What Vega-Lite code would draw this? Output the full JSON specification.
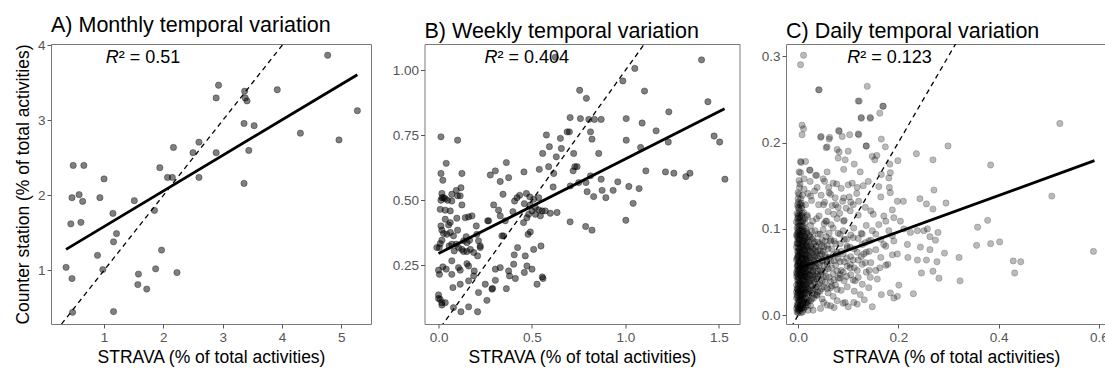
{
"$schema":"https://vega.github.io/schema/vega-lite/v6.json",
"background":"white",
"padding":{"left":13,"top":14,"right":0,"bottom":0},
"spacing":19.5,
"config":{"font":"Liberation Sans","view":{"stroke":"#7a7a7a","strokeWidth":1},
"axis":{"domain":false,"grid":false,"tickColor":"#555","tickSize":4,"labelColor":"#555","labelFontSize":13.5,"labelPadding":2,"titleFontSize":17.5,"titleFontWeight":"normal","titleColor":"#000","titlePadding":5},
"title":{"fontSize":21.5,"fontWeight":"normal","anchor":"start","frame":"group","color":"#000","offset":2}},
"hconcat":[
{"width":320,"height":280,"title":"A) Monthly temporal variation",
"encoding":{"x":{"field":"x","type":"quantitative","scale":{"domain":[0.106,5.5],"nice":false,"zero":false},"axis":{"values":[1,2,3,4,5],"title":"STRAVA (% of total activities)"}},
"y":{"field":"y","type":"quantitative","scale":{"domain":[0.284,4.02],"nice":false,"zero":false},"axis":{"values":[1,2,3,4],"title":"Counter station (% of total activities)","titlePadding":5}}},
"layer":[
{"data":{"values":[{"x":0.36,"y":1.04},{"x":0.46,"y":0.89},{"x":0.47,"y":0.44},{"x":0.48,"y":2.4},{"x":0.46,"y":1.97},{"x":0.44,"y":1.62},{"x":0.58,"y":2.01},{"x":0.64,"y":1.92},{"x":0.61,"y":1.64},{"x":0.66,"y":2.4},{"x":0.89,"y":1.2},{"x":0.93,"y":1.97},{"x":1.0,"y":2.22},{"x":0.98,"y":1.01},{"x":1.15,"y":1.76},{"x":1.16,"y":1.38},{"x":1.21,"y":1.49},{"x":1.16,"y":0.45},{"x":1.51,"y":1.93},{"x":1.57,"y":0.81},{"x":1.58,"y":0.95},{"x":1.72,"y":0.75},{"x":1.85,"y":1.8},{"x":1.87,"y":1.02},{"x":1.94,"y":2.37},{"x":1.97,"y":1.27},{"x":2.07,"y":2.24},{"x":2.15,"y":2.24},{"x":2.17,"y":2.64},{"x":2.23,"y":0.97},{"x":2.5,"y":2.57},{"x":2.6,"y":2.71},{"x":2.6,"y":2.24},{"x":2.89,"y":3.3},{"x":2.93,"y":3.47},{"x":2.89,"y":2.57},{"x":3.37,"y":3.39},{"x":3.38,"y":3.3},{"x":3.41,"y":3.26},{"x":3.36,"y":2.96},{"x":3.53,"y":2.93},{"x":3.44,"y":2.6},{"x":3.36,"y":2.16},{"x":3.92,"y":3.41},{"x":4.31,"y":2.83},{"x":4.77,"y":3.87},{"x":4.96,"y":2.74},{"x":5.27,"y":3.13}]},
"mark":{"type":"point","filled":true,"shape":"circle","size":40,"color":"#000","fillOpacity":0.5,"stroke":"#000","strokeWidth":0.6,"strokeOpacity":0.55}},
{"data":{"values":[{"x":0,"y":0},{"x":6,"y":6}]},"mark":{"type":"line","color":"#000","strokeWidth":1.3,"strokeDash":[5,4],"clip":true}},
{"data":{"values":[{"x":0.36,"y":1.28},{"x":5.27,"y":3.61}]},"mark":{"type":"line","color":"#000","strokeWidth":2.8,"clip":true}},
{"data":{"values":[{"x":1.03,"y":3.76,"r":"R","rest":"² = 0.51"}]},"layer":[
{"mark":{"type":"text","fontSize":18,"fontStyle":"italic","align":"left","baseline":"alphabetic","color":"#000"},"encoding":{"text":{"field":"r"}}},
{"mark":{"type":"text","fontSize":18,"align":"left","baseline":"alphabetic","dx":13,"color":"#000"},"encoding":{"text":{"field":"rest"}}}]}
]},
{"width":315,"height":280,"title":"B) Weekly temporal variation",
"encoding":{"x":{"field":"x","type":"quantitative","scale":{"domain":[-0.075,1.61],"nice":false,"zero":false},"axis":{"values":[0,0.5,1,1.5],"format":".1f","title":"STRAVA (% of total activities)"}},
"y":{"field":"y","type":"quantitative","scale":{"domain":[0.024,1.101],"nice":false,"zero":false},"axis":{"values":[0.25,0.5,0.75,1.0],"format":".2f","title":null}}},
"layer":[
{"data":{"values":[{"x":1.407,"y":1.04},{"x":1.05,"y":1.007},{"x":0.986,"y":0.959},{"x":0.755,"y":0.923},{"x":0.791,"y":0.892},{"x":1.102,"y":0.92},{"x":1.441,"y":0.879},{"x":0.704,"y":0.818},{"x":0.759,"y":0.814},{"x":0.804,"y":0.811},{"x":0.834,"y":0.811},{"x":0.87,"y":0.811},{"x":1.004,"y":0.814},{"x":1.089,"y":0.797},{"x":1.232,"y":0.84},{"x":1.164,"y":0.767},{"x":0.813,"y":0.763},{"x":0.821,"y":0.735},{"x":0.577,"y":0.751},{"x":0.652,"y":0.738},{"x":0.688,"y":0.763},{"x":0.7,"y":0.763},{"x":0.593,"y":0.706},{"x":0.657,"y":0.699},{"x":0.857,"y":0.68},{"x":0.723,"y":0.68},{"x":0.557,"y":0.68},{"x":1.004,"y":0.731},{"x":1.081,"y":0.703},{"x":1.229,"y":0.724},{"x":1.474,"y":0.747},{"x":1.504,"y":0.724},{"x":0.63,"y":0.667},{"x":0.729,"y":0.629},{"x":0.741,"y":0.629},{"x":0.72,"y":0.613},{"x":0.589,"y":0.629},{"x":0.539,"y":0.619},{"x":0.616,"y":0.603},{"x":0.813,"y":0.594},{"x":0.87,"y":0.581},{"x":0.789,"y":0.568},{"x":0.75,"y":0.568},{"x":0.705,"y":0.555},{"x":0.613,"y":0.551},{"x":0.795,"y":0.533},{"x":0.83,"y":0.514},{"x":0.875,"y":0.538},{"x":0.895,"y":0.51},{"x":0.934,"y":0.538},{"x":0.959,"y":0.571},{"x":1.018,"y":0.553},{"x":1.041,"y":0.488},{"x":1.073,"y":0.545},{"x":1.109,"y":0.613},{"x":1.214,"y":0.609},{"x":1.259,"y":0.604},{"x":1.323,"y":0.591},{"x":1.345,"y":0.604},{"x":1.532,"y":0.581},{"x":1.002,"y":0.423},{"x":0.704,"y":0.417},{"x":0.787,"y":0.399},{"x":0.821,"y":0.385},{"x":0.598,"y":0.45},{"x":0.634,"y":0.453},{"x":0.625,"y":1.05},
{"x":0.459,"y":0.487},{"x":0.488,"y":0.513},{"x":0.509,"y":0.504},{"x":0.536,"y":0.51},{"x":0.434,"y":0.519},{"x":0.47,"y":0.526},{"x":0.42,"y":0.51},{"x":0.518,"y":0.472},{"x":0.536,"y":0.463},{"x":0.554,"y":0.459},{"x":0.571,"y":0.459},{"x":0.5,"y":0.459},{"x":0.482,"y":0.446},{"x":0.545,"y":0.44},{"x":0.518,"y":0.446},{"x":0.455,"y":0.414},{"x":0.473,"y":0.433},{"x":0.491,"y":0.482},{"x":0.479,"y":0.369},{"x":0.491,"y":0.378},{"x":0.457,"y":0.609},{"x":0.407,"y":0.497},
{"x":0.363,"y":0.645},{"x":0.375,"y":0.587},{"x":0.345,"y":0.523},{"x":0.304,"y":0.613},{"x":0.277,"y":0.597},{"x":0.33,"y":0.572},{"x":0.295,"y":0.482},{"x":0.321,"y":0.462},{"x":0.33,"y":0.44},{"x":0.268,"y":0.421},{"x":0.398,"y":0.456},{"x":0.357,"y":0.421},{"x":0.348,"y":0.363},{"x":0.339,"y":0.363},{"x":0.423,"y":0.318},{"x":0.405,"y":0.29},{"x":0.402,"y":0.254},{"x":0.464,"y":0.286},{"x":0.473,"y":0.247},{"x":0.5,"y":0.235},{"x":0.509,"y":0.311},{"x":0.548,"y":0.324},{"x":0.555,"y":0.205},{"x":0.527,"y":0.177},{"x":0.559,"y":0.199},{"x":0.459,"y":0.222},{"x":0.411,"y":0.199},{"x":0.38,"y":0.209},{"x":0.375,"y":0.228},{"x":0.33,"y":0.241},{"x":0.304,"y":0.235},{"x":0.304,"y":0.192},{"x":0.363,"y":0.16},{"x":0.289,"y":0.161},{"x":0.286,"y":0.158},{"x":0.259,"y":0.115},{"x":0.25,"y":0.177},{"x":0.223,"y":0.324},{"x":0.263,"y":0.421},{"x":0.205,"y":0.369},{"x":0.202,"y":0.401},{"x":0.214,"y":0.344},{"x":0.223,"y":0.318},{"x":0.209,"y":0.286},{"x":0.214,"y":0.145},{"x":0.209,"y":0.071},{"x":0.161,"y":0.09},{"x":0.12,"y":0.071},{"x":0.08,"y":0.087},{"x":0.116,"y":0.177},{"x":0.161,"y":0.19},{"x":0.188,"y":0.209},{"x":0.191,"y":0.228},{"x":0.152,"y":0.256},{"x":0.161,"y":0.247},{"x":0.116,"y":0.231},{"x":0.107,"y":0.241},{"x":0.071,"y":0.215},{"x":0.077,"y":0.164},{"x":0.152,"y":0.337},{"x":0.166,"y":0.346},{"x":0.148,"y":0.36},{"x":0.17,"y":0.311},{"x":0.125,"y":0.311},{"x":0.134,"y":0.344},{"x":0.188,"y":0.299},{"x":0.143,"y":0.433},{"x":0.161,"y":0.436},{"x":0.179,"y":0.44},{"x":0.125,"y":0.482},{"x":0.116,"y":0.517},{"x":0.125,"y":0.603},{"x":0.102,"y":0.731},{"x":0.071,"y":0.523},{"x":0.095,"y":0.538},{"x":0.102,"y":0.517},{"x":0.071,"y":0.497},{"x":0.063,"y":0.459},{"x":0.098,"y":0.431},{"x":0.063,"y":0.414},{"x":0.054,"y":0.405},{"x":0.08,"y":0.363},{"x":0.063,"y":0.376},{"x":0.102,"y":0.385},{"x":0.045,"y":0.369},{"x":0.071,"y":0.331},{"x":0.057,"y":0.324},{"x":0.095,"y":0.331},{"x":0.107,"y":0.318},{"x":0.018,"y":0.385},{"x":0.018,"y":0.346},{"x":0.027,"y":0.372},{"x":0.013,"y":0.401},{"x":0.004,"y":0.318},{"x":0.009,"y":0.333},{"x":0.036,"y":0.427},{"x":0.009,"y":0.465},{"x":0.036,"y":0.462},{"x":0.013,"y":0.5},{"x":0.018,"y":0.51},{"x":0.027,"y":0.51},{"x":0.018,"y":0.526},{"x":0.036,"y":0.506},{"x":0.023,"y":0.577},{"x":0.013,"y":0.603},{"x":0.041,"y":0.642},{"x":0.013,"y":0.744},{"x":0.0,"y":0.231},{"x":0.005,"y":0.215},{"x":0.023,"y":0.244},{"x":0.041,"y":0.235},{"x":0.0,"y":0.136},{"x":0.0,"y":0.122},{"x":0.009,"y":0.119},{"x":0.018,"y":0.106},{"x":0.036,"y":0.106},{"x":0.018,"y":0.097},{"x":-0.009,"y":0.318},{"x":0.048,"y":0.5},{"x":0.12,"y":0.548},{"x":0.071,"y":0.267},{"x":0.084,"y":0.305},{"x":0.134,"y":0.303},{"x":0.152,"y":0.303}]},
"mark":{"type":"point","filled":true,"shape":"circle","size":40,"color":"#000","fillOpacity":0.5,"stroke":"#000","strokeWidth":0.6,"strokeOpacity":0.55}},
{"data":{"values":[{"x":-1,"y":-1},{"x":2,"y":2}]},"mark":{"type":"line","color":"#000","strokeWidth":1.3,"strokeDash":[5,4],"clip":true}},
{"data":{"values":[{"x":0.0,"y":0.295},{"x":1.53,"y":0.852}]},"mark":{"type":"line","color":"#000","strokeWidth":2.8,"clip":true}},
{"data":{"values":[{"x":0.246,"y":1.027,"r":"R","rest":"² = 0.404"}]},"layer":[
{"mark":{"type":"text","fontSize":18,"fontStyle":"italic","align":"left","baseline":"alphabetic","color":"#000"},"encoding":{"text":{"field":"r"}}},
{"mark":{"type":"text","fontSize":18,"align":"left","baseline":"alphabetic","dx":13,"color":"#000"},"encoding":{"text":{"field":"rest"}}}]}
]},
{"width":320,"height":280,"title":"C) Daily temporal variation",
"encoding":{"x":{"field":"x","type":"quantitative","scale":{"domain":[-0.024,0.614],"nice":false,"zero":false},"axis":{"values":[0,0.2,0.4,0.6],"format":".1f","title":"STRAVA (% of total activities)"}},
"y":{"field":"y","type":"quantitative","scale":{"domain":[-0.01,0.314],"nice":false,"zero":false},"axis":{"values":[0,0.1,0.2,0.3],"format":".1f","title":null}}},
"layer":[
{"data":{"values":[{"x":0.011,"y":0.301},{"x":0.005,"y":0.29},{"x":0.041,"y":0.261},{"x":0.138,"y":0.265},{"x":0.12,"y":0.248},{"x":0.169,"y":0.242},{"x":0.163,"y":0.234},{"x":0.126,"y":0.228},{"x":0.144,"y":0.228},{"x":0.008,"y":0.22},{"x":0.011,"y":0.216},{"x":0.008,"y":0.209},{"x":0.045,"y":0.206},{"x":0.063,"y":0.206},{"x":0.056,"y":0.194},{"x":0.081,"y":0.214},{"x":0.088,"y":0.207},{"x":0.103,"y":0.209},{"x":0.121,"y":0.209},{"x":0.136,"y":0.196},{"x":0.166,"y":0.204},{"x":0.174,"y":0.195},{"x":0.299,"y":0.196},{"x":0.236,"y":0.187},{"x":0.269,"y":0.18},{"x":0.199,"y":0.179},{"x":0.522,"y":0.222},{"x":0.384,"y":0.174},{"x":0.005,"y":0.178},{"x":0.015,"y":0.178},{"x":0.005,"y":0.165},{"x":0.023,"y":0.168},{"x":0.037,"y":0.162},{"x":0.058,"y":0.166},{"x":0.053,"y":0.155},{"x":0.078,"y":0.192},{"x":0.08,"y":0.182},{"x":0.094,"y":0.18},{"x":0.112,"y":0.175},{"x":0.091,"y":0.169},{"x":0.148,"y":0.184},{"x":0.157,"y":0.185},{"x":0.153,"y":0.18},{"x":0.183,"y":0.175},{"x":0.184,"y":0.165},{"x":0.166,"y":0.163},{"x":0.181,"y":0.159},{"x":0.124,"y":0.166},{"x":0.14,"y":0.155},{"x":0.13,"y":0.15},{"x":0.161,"y":0.149},{"x":0.182,"y":0.148},{"x":0.184,"y":0.142},{"x":0.243,"y":0.135},{"x":0.271,"y":0.145},{"x":0.256,"y":0.129},{"x":0.269,"y":0.123},{"x":0.295,"y":0.13},{"x":0.198,"y":0.132},{"x":0.21,"y":0.132},{"x":0.506,"y":0.138},{"x":0.378,"y":0.11},{"x":0.358,"y":0.102},{"x":0.356,"y":0.081},{"x":0.384,"y":0.083},{"x":0.402,"y":0.085},{"x":0.589,"y":0.074},{"x":0.429,"y":0.063},{"x":0.444,"y":0.062},{"x":0.432,"y":0.049},{"x":0.321,"y":0.067},{"x":0.323,"y":0.04},{"x":0.292,"y":0.072},{"x":0.277,"y":0.062},{"x":0.269,"y":0.051},{"x":0.281,"y":0.043},{"x":0.246,"y":0.049},{"x":0.23,"y":0.025},{"x":0.198,"y":0.022},{"x":0.191,"y":0.02},{"x":0.184,"y":0.026},{"x":0.166,"y":0.024},{"x":0.148,"y":0.01},{"x":0.201,"y":0.035},{"x":0.219,"y":0.067},{"x":0.238,"y":0.064},{"x":0.256,"y":0.064},{"x":0.263,"y":0.076},{"x":0.274,"y":0.087},{"x":0.263,"y":0.091},{"x":0.279,"y":0.096},{"x":0.251,"y":0.098},{"x":0.238,"y":0.098},{"x":0.224,"y":0.096},{"x":0.218,"y":0.082},{"x":0.244,"y":0.079},{"x":0.258,"y":0.1},{"x":0.211,"y":0.1},{"x":0.204,"y":0.109},{"x":0.191,"y":0.113},{"x":0.171,"y":0.115},{"x":0.161,"y":0.105},{"x":0.181,"y":0.098},{"x":0.191,"y":0.086},{"x":0.171,"y":0.082},{"x":0.198,"y":0.071},{"x":0.179,"y":0.059},{"x":0.163,"y":0.055},{"x":0.144,"y":0.044},{"x":0.158,"y":0.042},{"x":0.141,"y":0.032},{"x":0.124,"y":0.024},{"x":0.111,"y":0.015},{"x":0.094,"y":0.015},{"x":0.078,"y":0.017},{"x":0.065,"y":0.011},{"x":0.114,"y":0.04},{"x":0.104,"y":0.059},{"x":0.131,"y":0.071},{"x":0.141,"y":0.086},{"x":0.128,"y":0.094},{"x":0.111,"y":0.101},{"x":0.148,"y":0.098},{"x":0.15,"y":0.117},{"x":0.134,"y":0.125},{"x":0.121,"y":0.132},{"x":0.104,"y":0.121},{"x":0.091,"y":0.136},{"x":0.075,"y":0.128},{"x":0.065,"y":0.14},{"x":0.038,"y":0.148},{"x":0.025,"y":0.138},{"x":0.051,"y":0.128},{"x":0.071,"y":0.117},{"x":0.055,"y":0.109},{"x":0.091,"y":0.109},{"x":0.084,"y":0.094},{"x":0.065,"y":0.086},{"x":0.098,"y":0.078},{"x":0.078,"y":0.071},{"x":0.058,"y":0.059},{"x":0.045,"y":0.047},{"x":0.084,"y":0.047},{"x":0.065,"y":0.032},{"x":0.038,"y":0.024},{"x":0.051,"y":0.015},{"x":0.025,"y":0.011},{"x":0.118,"y":0.148},{"x":0.108,"y":0.153},{"x":0.077,"y":0.152},{"x":0.061,"y":0.148},
{"x":0.006,"y":0.177},{"x":0.024,"y":0.168},{"x":0.046,"y":0.207},{"x":0.062,"y":0.204},{"x":0.082,"y":0.213},{"x":0.058,"y":0.195},{"x":0.082,"y":0.189},{"x":0.1,"y":0.19},{"x":0.136,"y":0.196},{"x":0.12,"y":0.21},{"x":0.126,"y":0.229},{"x":0.144,"y":0.229},{"x":0.17,"y":0.242},{"x":0.122,"y":0.248},{"x":0.042,"y":0.261},{"x":0.002,"y":0.166},{"x":0.002,"y":0.156},
{"x":-0.002,"y":0.012},{"x":-0.002,"y":0.031},{"x":-0.002,"y":0.048},{"x":-0.002,"y":0.066},{"x":-0.002,"y":0.083},{"x":-0.002,"y":0.101},{"x":-0.002,"y":0.118},{"x":-0.002,"y":0.024},{"x":-0.002,"y":0.057},{"x":-0.002,"y":0.091},
{"x":0.0,"y":0.006},{"x":0.0,"y":0.019},{"x":0.0,"y":0.037},{"x":0.0,"y":0.052},{"x":0.0,"y":0.071},{"x":0.0,"y":0.088},{"x":0.0,"y":0.107},{"x":0.0,"y":0.125},{"x":0.0,"y":0.142},{"x":0.0,"y":0.015},{"x":0.0,"y":0.044},{"x":0.0,"y":0.078},
{"x":0.001,"y":0.009},{"x":0.001,"y":0.027},{"x":0.001,"y":0.041},{"x":0.001,"y":0.062},{"x":0.001,"y":0.075},{"x":0.001,"y":0.096},{"x":0.001,"y":0.113},{"x":0.001,"y":0.131},{"x":0.001,"y":0.034},{"x":0.001,"y":0.069},
{"x":0.003,"y":0.005},{"x":0.003,"y":0.022},{"x":0.003,"y":0.039},{"x":0.003,"y":0.055},{"x":0.003,"y":0.073},{"x":0.003,"y":0.086},{"x":0.003,"y":0.104},{"x":0.003,"y":0.121},{"x":0.003,"y":0.148},{"x":0.003,"y":0.016},{"x":0.003,"y":0.063},
{"x":0.005,"y":0.011},{"x":0.005,"y":0.028},{"x":0.005,"y":0.046},{"x":0.005,"y":0.059},{"x":0.005,"y":0.081},{"x":0.005,"y":0.094},{"x":0.005,"y":0.116},{"x":0.005,"y":0.135},{"x":0.005,"y":0.035},{"x":0.005,"y":0.072},
{"x":0.007,"y":0.008},{"x":0.007,"y":0.025},{"x":0.007,"y":0.043},{"x":0.007,"y":0.067},{"x":0.007,"y":0.085},{"x":0.007,"y":0.099},{"x":0.007,"y":0.124},{"x":0.007,"y":0.018},{"x":0.007,"y":0.052},
{"x":0.009,"y":0.013},{"x":0.009,"y":0.033},{"x":0.009,"y":0.049},{"x":0.009,"y":0.064},{"x":0.009,"y":0.079},{"x":0.009,"y":0.109},{"x":0.009,"y":0.139},{"x":0.009,"y":0.021},{"x":0.009,"y":0.058},
{"x":0.011,"y":0.007},{"x":0.011,"y":0.026},{"x":0.011,"y":0.045},{"x":0.011,"y":0.061},{"x":0.011,"y":0.077},{"x":0.011,"y":0.092},{"x":0.011,"y":0.119},{"x":0.011,"y":0.038},
{"x":0.013,"y":0.014},{"x":0.013,"y":0.032},{"x":0.013,"y":0.054},{"x":0.013,"y":0.071},{"x":0.013,"y":0.089},{"x":0.013,"y":0.112},{"x":0.013,"y":0.047},
{"x":0.015,"y":0.01},{"x":0.015,"y":0.029},{"x":0.015,"y":0.05},{"x":0.015,"y":0.068},{"x":0.015,"y":0.084},{"x":0.015,"y":0.128},{"x":0.015,"y":0.04},
{"x":0.017,"y":0.019},{"x":0.017,"y":0.036},{"x":0.017,"y":0.057},{"x":0.017,"y":0.074},{"x":0.017,"y":0.097},{"x":0.017,"y":0.062},
{"x":0.019,"y":0.012},{"x":0.019,"y":0.044},{"x":0.019,"y":0.066},{"x":0.019,"y":0.087},{"x":0.019,"y":0.053},{"x":0.019,"y":0.031},
{"x":0.022,"y":0.024},{"x":0.022,"y":0.047},{"x":0.022,"y":0.07},{"x":0.022,"y":0.093},{"x":0.022,"y":0.038},{"x":0.022,"y":0.058},
{"x":0.025,"y":0.017},{"x":0.025,"y":0.035},{"x":0.025,"y":0.061},{"x":0.025,"y":0.08},{"x":0.025,"y":0.104},{"x":0.025,"y":0.052},
{"x":0.028,"y":0.026},{"x":0.028,"y":0.049},{"x":0.028,"y":0.072},{"x":0.028,"y":0.042},{"x":0.028,"y":0.088},
{"x":0.031,"y":0.02},{"x":0.031,"y":0.041},{"x":0.031,"y":0.064},{"x":0.031,"y":0.083},{"x":0.031,"y":0.056},
{"x":0.034,"y":0.031},{"x":0.034,"y":0.055},{"x":0.034,"y":0.076},{"x":0.034,"y":0.098},{"x":0.034,"y":0.045},
{"x":0.037,"y":0.023},{"x":0.037,"y":0.048},{"x":0.037,"y":0.069},{"x":0.037,"y":0.112},
{"x":0.04,"y":0.036},{"x":0.04,"y":0.06},{"x":0.04,"y":0.085},{"x":0.04,"y":0.051},
{"x":0.044,"y":0.028},{"x":0.044,"y":0.052},{"x":0.044,"y":0.075},{"x":0.044,"y":0.094},
{"x":0.048,"y":0.04},{"x":0.048,"y":0.063},{"x":0.048,"y":0.087},{"x":0.048,"y":0.019},
{"x":0.052,"y":0.033},{"x":0.052,"y":0.058},{"x":0.052,"y":0.079},{"x":0.052,"y":0.106},
{"x":0.056,"y":0.045},{"x":0.056,"y":0.067},{"x":0.056,"y":0.091},
{"x":0.06,"y":0.026},{"x":0.06,"y":0.054},{"x":0.06,"y":0.077},{"x":0.06,"y":0.12},
{"x":0.065,"y":0.039},{"x":0.065,"y":0.063},{"x":0.065,"y":0.088},
{"x":0.07,"y":0.048},{"x":0.07,"y":0.07},{"x":0.07,"y":0.101},{"x":0.07,"y":0.022},
{"x":0.075,"y":0.035},{"x":0.075,"y":0.058},{"x":0.075,"y":0.083},
{"x":0.08,"y":0.043},{"x":0.08,"y":0.066},{"x":0.08,"y":0.095},{"x":0.08,"y":0.125},
{"x":0.086,"y":0.029},{"x":0.086,"y":0.052},{"x":0.086,"y":0.074},
{"x":0.092,"y":0.04},{"x":0.092,"y":0.062},{"x":0.092,"y":0.088},{"x":0.092,"y":0.11},
{"x":0.098,"y":0.033},{"x":0.098,"y":0.057},{"x":0.098,"y":0.08},
{"x":0.105,"y":0.047},{"x":0.105,"y":0.068},{"x":0.105,"y":0.093},{"x":0.105,"y":0.131},
{"x":0.112,"y":0.028},{"x":0.112,"y":0.055},{"x":0.112,"y":0.077},
{"x":0.12,"y":0.044},{"x":0.12,"y":0.064},{"x":0.12,"y":0.089},{"x":0.12,"y":0.116},
{"x":0.128,"y":0.036},{"x":0.128,"y":0.059},{"x":0.128,"y":0.082},
{"x":0.136,"y":0.05},{"x":0.136,"y":0.073},{"x":0.136,"y":0.104},
{"x":0.145,"y":0.061},{"x":0.145,"y":0.087},{"x":0.145,"y":0.121},
{"x":0.155,"y":0.052},{"x":0.155,"y":0.076},{"x":0.155,"y":0.094},
{"x":0.165,"y":0.067},{"x":0.165,"y":0.088},{"x":0.165,"y":0.137},
{"x":0.175,"y":0.058},{"x":0.175,"y":0.08},{"x":0.175,"y":0.109},
{"x":0.188,"y":0.07},{"x":0.188,"y":0.092},{"x":0.188,"y":0.122},
{"x":0.004,"y":0.152},{"x":0.012,"y":0.146},{"x":0.02,"y":0.141},{"x":0.027,"y":0.133},{"x":0.033,"y":0.144},{"x":0.041,"y":0.128},{"x":0.046,"y":0.139},{"x":0.053,"y":0.131},{"x":0.062,"y":0.142},{"x":0.068,"y":0.127},{"x":0.074,"y":0.136},{"x":0.083,"y":0.118},{"x":0.089,"y":0.132},{"x":0.096,"y":0.124},{"x":0.102,"y":0.137},{"x":0.11,"y":0.128},{"x":0.117,"y":0.141},{"x":0.012,"y":0.158},{"x":0.024,"y":0.155},{"x":0.035,"y":0.162},{"x":0.05,"y":0.158},{"x":0.07,"y":0.153},{"x":0.086,"y":0.147},{"x":0.1,"y":0.151},{"x":0.008,"y":0.127},{"x":0.018,"y":0.116},{"x":0.029,"y":0.109},{"x":0.042,"y":0.115},{"x":0.057,"y":0.109},{"x":0.066,"y":0.105},{"x":0.078,"y":0.112},
{"x":0.045,"y":0.008},{"x":0.058,"y":0.012},{"x":0.072,"y":0.009},{"x":0.09,"y":0.014},{"x":0.1,"y":0.01},{"x":0.118,"y":0.013},{"x":0.132,"y":0.018},{"x":0.03,"y":0.006},
{"x":-0.001,"y":0.022},{"x":0.001,"y":0.05},{"x":0.002,"y":0.083},{"x":0.004,"y":0.031},{"x":0.006,"y":0.066},{"x":0.008,"y":0.04},{"x":0.01,"y":0.086},{"x":0.012,"y":0.019},{"x":-0.001,"y":0.074},{"x":0.002,"y":0.061},{"x":0.004,"y":0.047},{"x":0.006,"y":0.02},{"x":0.008,"y":0.073},{"x":0.01,"y":0.053},{"x":0.012,"y":0.065},{"x":0.003,"y":0.093},{"x":0.005,"y":0.104},{"x":0.007,"y":0.115},{"x":0.009,"y":0.097},{"x":0.0,"y":0.098},{"x":0.001,"y":0.117},{"x":0.011,"y":0.103},{"x":0.013,"y":0.081},{"x":0.014,"y":0.06},{"x":0.016,"y":0.045},{"x":0.018,"y":0.027},{"x":0.02,"y":0.078},{"x":0.02,"y":0.006},{"x":0.016,"y":0.015},{"x":0.006,"y":0.003},{"x":0.0,"y":0.003},{"x":-0.002,"y":0.004},{"x":0.009,"y":0.004},{"x":0.004,"y":0.012},{"x":0.002,"y":0.036},{"x":0.007,"y":0.031},{"x":0.013,"y":0.025},{"x":0.015,"y":0.1},{"x":0.017,"y":0.085},{"x":0.019,"y":0.114},
{"x":-0.003,"y":0.008},{"x":-0.003,"y":0.02},{"x":-0.003,"y":0.035},{"x":-0.003,"y":0.05},{"x":-0.003,"y":0.064},{"x":-0.003,"y":0.079},{"x":-0.003,"y":0.093},{"x":-0.003,"y":0.108},{"x":-0.003,"y":0.045},{"x":-0.003,"y":0.027},
{"x":-0.001,"y":0.01},{"x":-0.001,"y":0.03},{"x":-0.001,"y":0.041},{"x":-0.001,"y":0.058},{"x":-0.001,"y":0.068},{"x":-0.001,"y":0.085},{"x":-0.001,"y":0.095},{"x":-0.001,"y":0.112},{"x":-0.001,"y":0.128},{"x":-0.001,"y":0.053},
{"x":0.0,"y":0.012},{"x":0.0,"y":0.026},{"x":0.0,"y":0.03},{"x":0.0,"y":0.047},{"x":0.0,"y":0.06},{"x":0.0,"y":0.066},{"x":0.0,"y":0.083},{"x":0.0,"y":0.092},{"x":0.0,"y":0.103},{"x":0.0,"y":0.115},{"x":0.0,"y":0.135},{"x":0.0,"y":0.057},
{"x":0.002,"y":0.007},{"x":0.002,"y":0.018},{"x":0.002,"y":0.028},{"x":0.002,"y":0.044},{"x":0.002,"y":0.054},{"x":0.002,"y":0.069},{"x":0.002,"y":0.078},{"x":0.002,"y":0.089},{"x":0.002,"y":0.1},{"x":0.002,"y":0.109},{"x":0.002,"y":0.124},{"x":0.002,"y":0.14},
{"x":0.004,"y":0.008},{"x":0.004,"y":0.019},{"x":0.004,"y":0.025},{"x":0.004,"y":0.038},{"x":0.004,"y":0.052},{"x":0.004,"y":0.06},{"x":0.004,"y":0.076},{"x":0.004,"y":0.088},{"x":0.004,"y":0.097},{"x":0.004,"y":0.113},{"x":0.004,"y":0.128},
{"x":0.006,"y":0.012},{"x":0.006,"y":0.023},{"x":0.006,"y":0.036},{"x":0.006,"y":0.049},{"x":0.006,"y":0.057},{"x":0.006,"y":0.071},{"x":0.006,"y":0.079},{"x":0.006,"y":0.092},{"x":0.006,"y":0.108},{"x":0.006,"y":0.13},
{"x":0.008,"y":0.009},{"x":0.008,"y":0.017},{"x":0.008,"y":0.028},{"x":0.008,"y":0.046},{"x":0.008,"y":0.055},{"x":0.008,"y":0.066},{"x":0.008,"y":0.083},{"x":0.008,"y":0.09},{"x":0.008,"y":0.103},{"x":0.008,"y":0.118},
{"x":0.01,"y":0.012},{"x":0.01,"y":0.024},{"x":0.01,"y":0.035},{"x":0.01,"y":0.042},{"x":0.01,"y":0.059},{"x":0.01,"y":0.07},{"x":0.01,"y":0.081},{"x":0.01,"y":0.096},{"x":0.01,"y":0.11},
{"x":0.012,"y":0.009},{"x":0.012,"y":0.03},{"x":0.012,"y":0.041},{"x":0.012,"y":0.05},{"x":0.012,"y":0.057},{"x":0.012,"y":0.075},{"x":0.012,"y":0.087},{"x":0.012,"y":0.098},
{"x":0.014,"y":0.02},{"x":0.014,"y":0.035},{"x":0.014,"y":0.045},{"x":0.014,"y":0.055},{"x":0.014,"y":0.066},{"x":0.014,"y":0.076},{"x":0.014,"y":0.092},{"x":0.014,"y":0.107},
{"x":0.016,"y":0.026},{"x":0.016,"y":0.033},{"x":0.016,"y":0.051},{"x":0.016,"y":0.064},{"x":0.016,"y":0.071},{"x":0.016,"y":0.079},{"x":0.016,"y":0.09},
{"x":0.018,"y":0.015},{"x":0.018,"y":0.038},{"x":0.018,"y":0.048},{"x":0.018,"y":0.059},{"x":0.018,"y":0.069},{"x":0.018,"y":0.081},{"x":0.018,"y":0.095},
{"x":0.021,"y":0.017},{"x":0.021,"y":0.03},{"x":0.021,"y":0.042},{"x":0.021,"y":0.052},{"x":0.021,"y":0.063},{"x":0.021,"y":0.076},{"x":0.021,"y":0.085},
{"x":0.024,"y":0.028},{"x":0.024,"y":0.04},{"x":0.024,"y":0.046},{"x":0.024,"y":0.056},{"x":0.024,"y":0.067},{"x":0.024,"y":0.074},{"x":0.024,"y":0.091},
{"x":0.027,"y":0.019},{"x":0.027,"y":0.034},{"x":0.027,"y":0.058},{"x":0.027,"y":0.064},{"x":0.027,"y":0.079},{"x":0.027,"y":0.097},
{"x":0.03,"y":0.03},{"x":0.03,"y":0.047},{"x":0.03,"y":0.051},{"x":0.03,"y":0.07},{"x":0.03,"y":0.077},{"x":0.03,"y":0.09},
{"x":0.033,"y":0.024},{"x":0.033,"y":0.038},{"x":0.033,"y":0.062},{"x":0.033,"y":0.068},{"x":0.033,"y":0.085},
{"x":0.036,"y":0.033},{"x":0.036,"y":0.042},{"x":0.036,"y":0.057},{"x":0.036,"y":0.073},{"x":0.036,"y":0.08},
{"x":0.04,"y":0.027},{"x":0.04,"y":0.045},{"x":0.04,"y":0.066},{"x":0.04,"y":0.075},{"x":0.04,"y":0.094},
{"x":0.043,"y":0.038},{"x":0.043,"y":0.058},{"x":0.043,"y":0.069},{"x":0.043,"y":0.083},
{"x":0.047,"y":0.031},{"x":0.047,"y":0.051},{"x":0.047,"y":0.071},{"x":0.047,"y":0.08},
{"x":0.05,"y":0.045},{"x":0.05,"y":0.064},{"x":0.05,"y":0.074},{"x":0.05,"y":0.099},
{"x":0.054,"y":0.038},{"x":0.054,"y":0.052},{"x":0.054,"y":0.07},{"x":0.054,"y":0.086},
{"x":0.058,"y":0.031},{"x":0.058,"y":0.062},{"x":0.058,"y":0.081},
{"x":0.062,"y":0.044},{"x":0.062,"y":0.067},{"x":0.062,"y":0.095},
{"x":0.067,"y":0.055},{"x":0.067,"y":0.077},{"x":0.067,"y":0.034},
{"x":0.072,"y":0.041},{"x":0.072,"y":0.063},{"x":0.072,"y":0.086},
{"x":0.078,"y":0.051},{"x":0.078,"y":0.073},{"x":0.078,"y":0.03},
{"x":0.084,"y":0.062},{"x":0.084,"y":0.083},{"x":0.084,"y":0.043},
{"x":0.09,"y":0.05},{"x":0.09,"y":0.071},{"x":0.09,"y":0.098},
{"x":0.097,"y":0.066},{"x":0.097,"y":0.045},{"x":0.097,"y":0.088},
{"x":0.104,"y":0.055},{"x":0.104,"y":0.079},
{"x":0.11,"y":0.064},{"x":0.11,"y":0.041},{"x":0.11,"y":0.09},
{"x":0.118,"y":0.073},{"x":0.118,"y":0.052},
{"x":0.126,"y":0.068},{"x":0.126,"y":0.095},
{"x":0.134,"y":0.061},{"x":0.134,"y":0.084},
{"x":0.142,"y":0.074},{"x":0.142,"y":0.052}]},
"mark":{"type":"point","filled":true,"shape":"circle","size":40,"color":"#000","fillOpacity":0.27,"stroke":"#000","strokeWidth":0.6,"strokeOpacity":0.3}},
{"data":{"values":[{"x":-0.05,"y":-0.05},{"x":0.5,"y":0.5}]},"mark":{"type":"line","color":"#000","strokeWidth":1.3,"strokeDash":[5,4],"clip":true}},
{"data":{"values":[{"x":-0.002,"y":0.054},{"x":0.591,"y":0.179}]},"mark":{"type":"line","color":"#000","strokeWidth":2.8,"clip":true}},
{"data":{"values":[{"x":0.098,"y":0.292,"r":"R","rest":"² = 0.123"}]},"layer":[
{"mark":{"type":"text","fontSize":18,"fontStyle":"italic","align":"left","baseline":"alphabetic","color":"#000"},"encoding":{"text":{"field":"r"}}},
{"mark":{"type":"text","fontSize":18,"align":"left","baseline":"alphabetic","dx":13,"color":"#000"},"encoding":{"text":{"field":"rest"}}}]}
]}
]}
